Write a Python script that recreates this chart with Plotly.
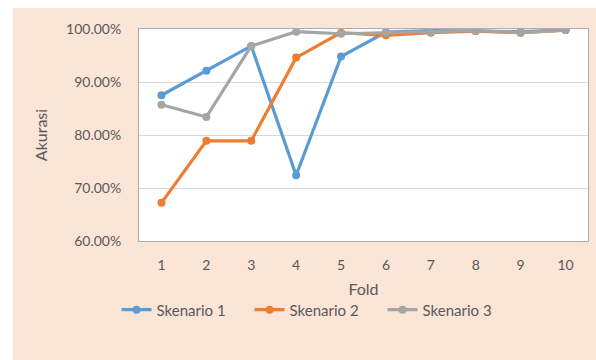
import plotly.graph_objects as go

folds = [1, 2, 3, 4, 5, 6, 7, 8, 9, 10]
skenario_1 = [0.875, 0.921, 0.968, 0.724, 0.948, 0.994, 0.997, 0.996, 0.995, 0.998]
skenario_2 = [0.672, 0.789, 0.789, 0.946, 0.993, 0.988, 0.993, 0.996, 0.993, 0.998]
skenario_3 = [0.857, 0.834, 0.968, 0.995, 0.991, 0.993, 0.994, 0.997, 0.993, 0.998]
series_names = ["Skenario 1", "Skenario 2", "Skenario 3"]
colors = ["#5B9BD5", "#ED7D31", "#A5A5A5"]

PEACH = "#FBE5D6"
TEXT = "#595959"
FONT = "Lato"

fig = go.Figure()
for name, vals, col in zip(series_names, [skenario_1, skenario_2, skenario_3], colors):
    fig.add_trace(go.Scatter(
        x=[str(f) for f in folds], y=vals, name=name, mode="lines+markers",
        line=dict(color=col, width=3.2),
        marker=dict(color=col, size=8, symbol="circle"),
    ))

# white strips left and above the peach chart panel
fig.add_shape(type="rect", xref="paper", yref="paper",
              x0=-0.4, x1=(12 - 138.5) / 450, y0=-0.7, y1=1.3,
              fillcolor="white", line_width=0, layer="below")
fig.add_shape(type="rect", xref="paper", yref="paper",
              x0=-0.4, x1=1.2, y0=(241 - 8) / 212, y1=1.3,
              fillcolor="white", line_width=0, layer="below")

fig.update_layout(
    width=596, height=360,
    margin=dict(l=138.5, r=7.5, t=29, b=119),
    paper_bgcolor=PEACH, plot_bgcolor="white",
    font=dict(family=FONT, size=14, color=TEXT),
    showlegend=True,
    legend=dict(orientation="h", x=(116 - 138.5) / 450, xanchor="left",
                y=-0.325, yanchor="middle",
                font=dict(family=FONT, size=15, color=TEXT), bgcolor="rgba(0,0,0,0)",
                itemwidth=30, entrywidth=88, entrywidthmode="pixels"),
)
fig.update_xaxes(
    type="category", range=[-0.5, 9.5],
    showgrid=False, showline=True, linecolor="#A9AFB8", linewidth=1, mirror=True,
    ticks="outside", ticklen=11, tickcolor="rgba(0,0,0,0)",
    tickfont=dict(family=FONT, size=14, color=TEXT),
    title=dict(text="Fold", font=dict(family=FONT, size=16, color=TEXT), standoff=12),
)
fig.update_yaxes(
    range=[0.6, 1.0], dtick=0.1, tickformat=".2%",
    showgrid=True, gridcolor="#D9D9D9", gridwidth=1,
    showline=True, linecolor="#A9AFB8", linewidth=1, mirror=True,
    ticks="outside", ticklen=14, tickcolor="rgba(0,0,0,0)",
    tickfont=dict(family=FONT, size=14, color=TEXT),
    title=dict(text="Akurasi", font=dict(family=FONT, size=16, color=TEXT), standoff=14),
    zeroline=False,
)

fig.write_html("out.html")
